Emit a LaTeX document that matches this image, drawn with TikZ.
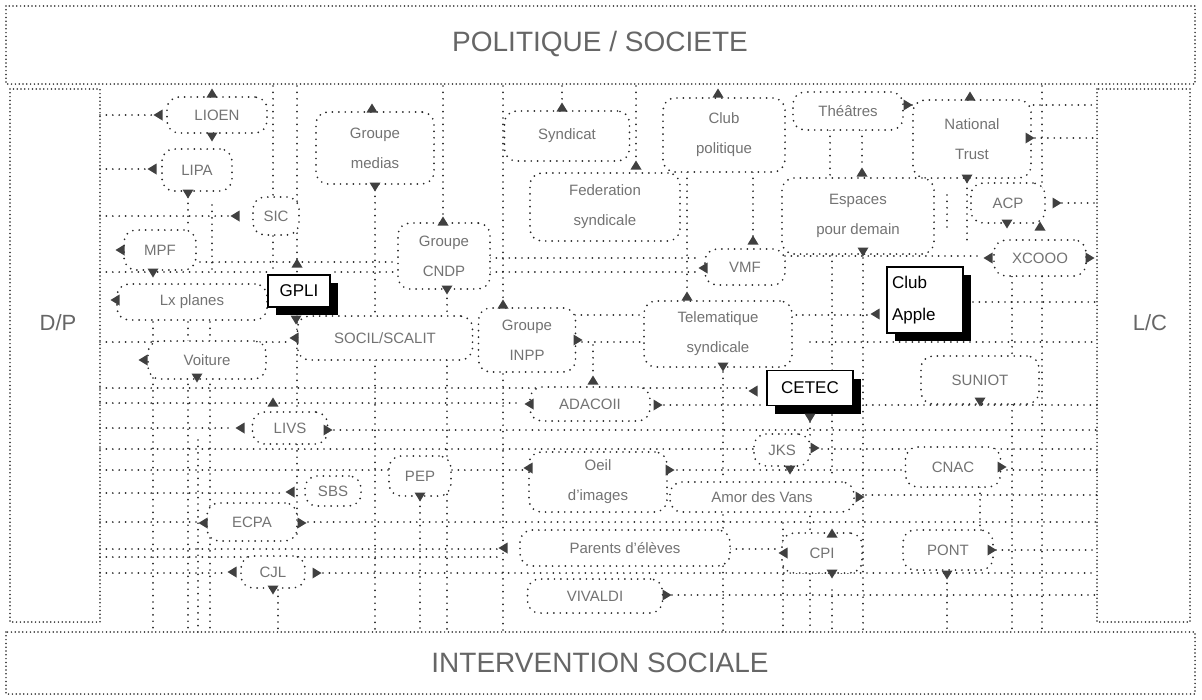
\documentclass[tikz,border=0pt]{standalone}
\usepackage{fontspec}
\setmainfont{Liberation Sans}
\usetikzlibrary{shadows}
\tikzset{
  arrL/.pic={\fill[black!75] (-4.5,0) -- (4.5,-5.5) -- (4.5,5.5) -- cycle;},
  arrR/.pic={\fill[black!75] (4.5,0) -- (-4.5,-5.5) -- (-4.5,5.5) -- cycle;},
  arrU/.pic={\fill[black!75] (0,-4.5) -- (-5.5,4.5) -- (5.5,4.5) -- cycle;},
  arrD/.pic={\fill[black!75] (0,4.5) -- (-5.5,-4.5) -- (5.5,-4.5) -- cycle;},
}
\begin{document}
\begin{tikzpicture}[x=1pt,y=-1pt,
 dl/.style={draw=black!85,line width=1.9pt,dash pattern=on 0pt off 6.4pt,line cap=round},
 fr/.style={draw=black!85,line width=1.7pt,dash pattern=on 0pt off 3.8pt,line cap=round},
 tx/.style={text=black!55,font=\fontsize{15}{30}\selectfont,align=center,inner sep=0pt},
 bub/.style={dl,tx,fill=white,rounded corners=12pt},
 sbx/.style={draw=black,line width=1.6pt,fill=white,text=black,font=\fontsize{17}{32}\selectfont,inner sep=0pt,drop shadow={shadow xshift=8pt,shadow yshift=-8pt,fill=black,opacity=1}},
 ttl/.style={text=black!60,font=\fontsize{28}{30}\selectfont},
 side/.style={text=black!60,font=\fontsize{22}{24}\selectfont}]
\fill[white] (0,0) rectangle (1202,699);
\useasboundingbox (0,0) rectangle (1202,699);
% frames
\draw[fr] (6,6) rectangle (1195,84);
\node[ttl] (pol) at (600,44) {POLITIQUE / SOCIETE};
\draw[fr] (10,89) rectangle (100,622);
\node[side] (dp) at (58,323) {D/P};
\draw[fr] (1097,89) rectangle (1190,622);
\node[side] (lc) at (1150,323) {L/C};
\draw[fr] (6,632) rectangle (1195,694);
\node[ttl] (isoc) at (600,663) {INTERVENTION SOCIALE};
% horizontal grid lines
\draw[dl] (100,115) -- (152,115);
\draw[dl] (100,169) -- (146,169);
\draw[dl] (100,216) -- (229,216);
\draw[dl] (200,262) -- (398,262);
\draw[dl] (100,272) -- (268,272);
\draw[dl] (335,272) -- (398,272);
\draw[dl] (490,258) -- (697,258);
\draw[dl] (490,272) -- (697,272);
\draw[dl] (912,105) -- (1097,105);
\draw[dl] (1035,138) -- (1097,138);
\draw[dl] (1062,203) -- (1097,203);
\draw[dl] (785,256) -- (981,256);
\draw[dl] (973,302) -- (1097,302);
\draw[dl] (575,315) -- (645,315);
\draw[dl] (790,315) -- (869,315);
\draw[dl] (100,342) -- (288,342);
\draw[dl] (582,342) -- (645,342);
\draw[dl] (810,342) -- (1097,342);
\draw[dl] (100,388) -- (747,388);
\draw[dl] (100,403) -- (522,403);
\draw[dl] (664,405) -- (765,405);
\draw[dl] (860,405) -- (1097,405);
\draw[dl] (100,428) -- (234,428);
\draw[dl] (334,430) -- (1097,430);
\draw[dl] (100,449) -- (755,449);
\draw[dl] (822,449) -- (1097,449);
\draw[dl] (100,470) -- (390,470);
\draw[dl] (452,470) -- (523,470);
\draw[dl] (677,470) -- (905,470);
\draw[dl] (1007,470) -- (1097,470);
\draw[dl] (100,493) -- (284,493);
\draw[dl] (866,495) -- (1097,495);
\draw[dl] (100,522) -- (197,522);
\draw[dl] (308,522) -- (1097,522);
\draw[dl] (100,549) -- (497,549);
\draw[dl] (730,549) -- (777,549);
\draw[dl] (996,550) -- (1097,550);
\draw[dl] (100,557) -- (497,557);
\draw[dl] (100,573) -- (226,573);
\draw[dl] (323,573) -- (1097,573);
\draw[dl] (672,595) -- (1097,595);
% vertical grid lines
\draw[dl] (153,322) -- (153,342);
\draw[dl] (153,378) -- (153,632);
\draw[dl] (188,197) -- (188,228);
\draw[dl] (188,322) -- (188,342);
\draw[dl] (188,378) -- (188,632);
\draw[dl] (198,440) -- (198,632);
\draw[dl] (212,205) -- (212,272);
\draw[dl] (210,322) -- (210,342);
\draw[dl] (210,378) -- (210,632);
\draw[dl] (273,86) -- (273,196);
\draw[dl] (273,236) -- (273,272);
\draw[dl] (278,590) -- (278,632);
\draw[dl] (297,86) -- (297,540);
\draw[dl] (375,190) -- (375,316);
\draw[dl] (375,360) -- (375,632);
\draw[dl] (420,500) -- (420,632);
\draw[dl] (443,86) -- (443,216);
\draw[dl] (447,292) -- (447,316);
\draw[dl] (447,360) -- (447,632);
\draw[dl] (503,86) -- (503,300);
\draw[dl] (503,374) -- (503,632);
\draw[dl] (562,86) -- (562,103);
\draw[dl] (593,345) -- (593,376);
\draw[dl] (636,86) -- (636,160);
\draw[dl] (687,172) -- (687,290);
\draw[dl] (753,172) -- (753,236);
\draw[dl] (723,372) -- (723,480);
\draw[dl] (723,515) -- (723,632);
\draw[dl] (783,523) -- (783,632);
\draw[dl] (810,422) -- (810,436);
\draw[dl] (810,510) -- (810,632);
\draw[dl] (832,255) -- (832,478);
\draw[dl] (832,590) -- (832,632);
\draw[dl] (830,130) -- (830,178);
\draw[dl] (862,130) -- (862,166);
\draw[dl] (863,258) -- (863,632);
\draw[dl] (947,195) -- (947,230);
\draw[dl] (967,182) -- (967,240);
\draw[dl] (980,487) -- (980,530);
\draw[dl] (947,577) -- (947,632);
\draw[dl] (1012,270) -- (1012,632);
\draw[dl] (1042,86) -- (1042,190);
\draw[dl] (1042,270) -- (1042,632);
% dotted bubbles
\node[bub,minimum width=100,minimum height=36] (lioen) at (217,115) {LIOEN};
\node[bub,minimum width=70,minimum height=42] (lipa) at (197,170) {LIPA};
\node[bub,minimum width=46,minimum height=38] (sic) at (276,216) {SIC};
\node[bub,minimum width=72,minimum height=40] (mpf) at (160,250) {MPF};
\node[bub,minimum width=150,minimum height=36] (lxp) at (192,302) {Lx planes};
\node[bub,minimum width=118,minimum height=38] (voit) at (207,360) {Voiture};
\node[bub,minimum width=175,minimum height=44] (socil) at (385,338) {SOCIL/SCALIT};
\node[bub,minimum width=118,minimum height=72] (medias) at (375,148) {Groupe\\medias};
\node[bub,minimum width=92,minimum height=66] (cndp) at (444,256) {Groupe\\CNDP};
\node[bub,minimum width=125,minimum height=50] (synd) at (567,136) {Syndicat};
\node[bub,minimum width=150,minimum height=68] (fed) at (605,207) {Federation\\syndicale};
\node[bub,minimum width=122,minimum height=74] (clubpol) at (724,135) {Club\\politique};
\node[bub,minimum width=80,minimum height=36] (vmf) at (745,267) {VMF};
\node[bub,minimum width=110,minimum height=38] (theat) at (848,111) {Théâtres};
\node[bub,minimum width=118,minimum height=78] (natio) at (972,139) {National\\Trust};
\node[bub,minimum width=152,minimum height=76] (esp) at (858,216) {Espaces\\pour demain};
\node[bub,minimum width=74,minimum height=40] (acp) at (1008,203) {ACP};
\node[bub,minimum width=92,minimum height=36] (xco) at (1040,258) {XCOOO};
\node[bub,minimum width=148,minimum height=66] (tele) at (718,334) {Telematique\\syndicale};
\node[bub,minimum width=97,minimum height=64] (inpp) at (527,340) {Groupe\\INPP};
\node[bub,minimum width=120,minimum height=34] (adac) at (590,404) {ADACOII};
\node[bub,minimum width=118,minimum height=48] (sun) at (980,380) {SUNIOT};
\node[bub,minimum width=75,minimum height=32] (livs) at (290,428) {LIVS};
\node[bub,minimum width=56,minimum height=32] (jks) at (782,450) {JKS};
\node[bub,minimum width=95,minimum height=40] (cnac) at (953,467) {CNAC};
\node[bub,minimum width=138,minimum height=60] (oeil) at (598,482) {Oeil\\d'images};
\node[bub,minimum width=184,minimum height=30] (amor) at (762,497) {Amor des Vans};
\node[bub,minimum width=56,minimum height=30] (sbs) at (333,491) {SBS};
\node[bub,minimum width=62,minimum height=40] (pep) at (420,476) {PEP};
\node[bub,minimum width=90,minimum height=38] (ecpa) at (252,522) {ECPA};
\node[bub,minimum width=64,minimum height=32] (cjl) at (273,572) {CJL};
\node[bub,minimum width=210,minimum height=36] (par) at (625,548) {Parents d'élèves};
\node[bub,minimum width=80,minimum height=40] (cpi) at (822,553) {CPI};
\node[bub,minimum width=90,minimum height=40] (pont) at (948,550) {PONT};
\node[bub,minimum width=135,minimum height=34] (viv) at (595,596) {VIVALDI};
% solid boxes
\node[sbx,minimum width=62,minimum height=32] (gpli) at (299,291) {GPLI};
\node[sbx,minimum width=76,minimum height=66,text width=66,align=left] (apple) at (925,300) {Club\\Apple};
\node[sbx,minimum width=86,minimum height=35] (cetec) at (810,388) {CETEC};
% arrowheads
\pic at (158,115) {arrL};
\pic at (212,93) {arrU};
\pic at (212,137) {arrD};
\pic at (152,169) {arrL};
\pic at (188,194) {arrD};
\pic at (235,216) {arrL};
\pic at (120,250) {arrL};
\pic at (153,273) {arrD};
\pic at (115,300) {arrL};
\pic at (297,263) {arrU};
\pic at (296,320) {arrD};
\pic at (143,360) {arrL};
\pic at (197,378) {arrD};
\pic at (294,338) {arrL};
\pic at (372,108) {arrU};
\pic at (375,187) {arrD};
\pic at (443,221) {arrU};
\pic at (447,290) {arrD};
\pic at (562,107) {arrU};
\pic at (636,165) {arrU};
\pic at (718,93) {arrU};
\pic at (703,268) {arrL};
\pic at (753,240) {arrU};
\pic at (908,105) {arrR};
\pic at (970,96) {arrU};
\pic at (1030,138) {arrR};
\pic at (967,179) {arrD};
\pic at (862,172) {arrU};
\pic at (863,252) {arrD};
\pic at (1057,203) {arrR};
\pic at (1007,224) {arrD};
\pic at (1040,226) {arrU};
\pic at (988,258) {arrL};
\pic at (1090,258) {arrR};
\pic at (875,314) {arrL};
\pic at (687,296) {arrU};
\pic at (723,367) {arrD};
\pic at (503,304) {arrU};
\pic at (578,340) {arrR};
\pic at (529,404) {arrL};
\pic at (658,405) {arrR};
\pic at (593,380) {arrU};
\pic at (753,391) {arrL};
\pic at (810,418) {arrD};
\pic at (980,402) {arrD};
\pic at (240,428) {arrL};
\pic at (328,430) {arrR};
\pic at (273,402) {arrU};
\pic at (815,448) {arrR};
\pic at (790,470) {arrD};
\pic at (1002,467) {arrR};
\pic at (528,468) {arrL};
\pic at (670,470) {arrR};
\pic at (860,497) {arrR};
\pic at (290,492) {arrL};
\pic at (420,497) {arrD};
\pic at (203,523) {arrL};
\pic at (302,523) {arrR};
\pic at (503,548) {arrL};
\pic at (783,553) {arrL};
\pic at (832,533) {arrU};
\pic at (832,574) {arrD};
\pic at (992,550) {arrR};
\pic at (947,575) {arrD};
\pic at (232,572) {arrL};
\pic at (317,573) {arrR};
\pic at (273,590) {arrD};
\pic at (667,595) {arrR};
\end{tikzpicture}
\end{document}
